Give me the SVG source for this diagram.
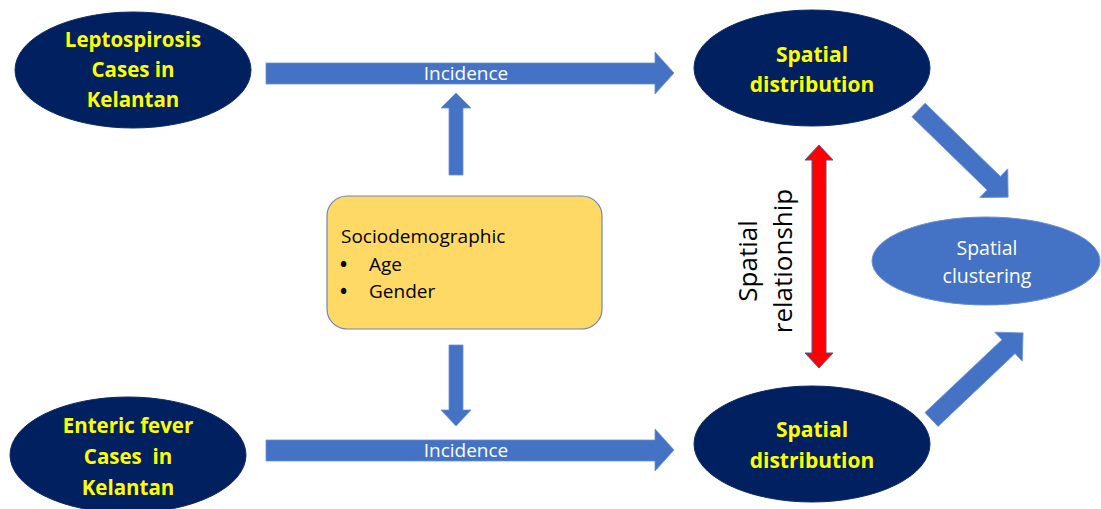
<svg xmlns="http://www.w3.org/2000/svg" width="1101" height="509" viewBox="0 0 1101 509">
<style>
.dark{fill:#002060;stroke:#0a2a6a;stroke-width:1}
.light{fill:#4472C4;stroke:#6a8fd3;stroke-width:1}
.arr{fill:#4472C4;stroke:#6a8fd3;stroke-width:0.8}
.red{fill:#FF0000;stroke:#4a5a9a;stroke-width:1}
.yt{font-family:"Open Sans","Liberation Sans",sans-serif;font-weight:700;fill:#FFFF00;text-anchor:middle;white-space:pre}
.wt{font-family:"Open Sans","Liberation Sans",sans-serif;fill:#FFFFFF;text-anchor:middle}
.bt{font-family:"Open Sans","Liberation Sans",sans-serif;fill:#000000}
</style>
<rect width="1101" height="509" fill="#FFFFFF"/>
<g id="connectors">
<g id="arrow-top">
<polygon class="arr" points="266,63 655,63 655,52 674,73 655,94 655,84 266,84"/>
<text class="wt" x="466" y="80" font-size="19">Incidence</text>
</g>
<g id="arrow-bottom">
<polygon class="arr" points="266,440 655,440 655,429 674,450 655,471 655,461 266,461"/>
<text class="wt" x="466" y="457" font-size="19">Incidence</text>
</g>
<polygon id="arrow-up" class="arr" points="449,175 449,108 441,108 456,93 471,108 463,108 463,175"/>
<polygon id="arrow-down" class="arr" points="449,345 449,410 441,410 456,426 471,410 463,410 463,345"/>
<g id="arrow-relationship">
<polygon class="red" points="819,145 833,160 826,160 826,353 833,353 819,368 805,353 812,353 812,160 805,160"/>
<text class="bt" font-size="26" text-anchor="middle" transform="translate(757,261) rotate(-90)">Spatial</text>
<text class="bt" font-size="26" text-anchor="middle" transform="translate(792,261) rotate(-90)">relationship</text>
</g>
<polygon id="arrow-diag-top" class="arr" transform="translate(918.5,110) rotate(44.2)" points="0,-9.5 105,-9.5 105,-20 125,0 105,20 105,9.5 0,9.5"/>
<polygon id="arrow-diag-bottom" class="arr" transform="translate(931.5,419.5) rotate(-43.4)" points="0,-9.5 106,-9.5 106,-20 126,0 106,20 106,9.5 0,9.5"/>
</g>
<g id="node-leptospirosis">
<ellipse class="dark" cx="133" cy="70" rx="118" ry="58"/>
<text class="yt" font-size="20.5" x="133" y="47">Leptospirosis</text>
<text class="yt" font-size="20.5" x="133" y="77">Cases in</text>
<text class="yt" font-size="20.5" x="133" y="107">Kelantan</text>
</g>
<g id="node-enteric">
<ellipse class="dark" cx="128" cy="455" rx="118" ry="58"/>
<text class="yt" font-size="20.5" x="128" y="433">Enteric fever</text>
<text class="yt" font-size="20.5" x="128" y="464">Cases  in</text>
<text class="yt" font-size="20.5" x="128" y="495">Kelantan</text>
</g>
<g id="node-spatial-top">
<ellipse class="dark" cx="812" cy="68" rx="118" ry="58"/>
<text class="yt" font-size="21" x="812" y="62">Spatial</text>
<text class="yt" font-size="21" x="812" y="92">distribution</text>
</g>
<g id="node-spatial-bottom">
<ellipse class="dark" cx="812" cy="444" rx="118" ry="58"/>
<text class="yt" font-size="21" x="812" y="437">Spatial</text>
<text class="yt" font-size="21" x="812" y="468">distribution</text>
</g>
<g id="node-clustering">
<ellipse class="light" cx="986" cy="261" rx="114" ry="44"/>
<text class="wt" font-size="19.5" x="987" y="255">Spatial</text>
<text class="wt" font-size="19.5" x="987" y="283">clustering</text>
</g>
<g id="node-sociodemographic">
<rect x="327" y="196" width="275" height="133" rx="20" ry="20" fill="#FFD966" stroke="#6d86b8" stroke-width="1.2"/>
<text class="bt" font-size="19" x="341" y="243">Sociodemographic</text>
<text class="bt" font-size="19" font-weight="700" x="340" y="271">•</text>
<text class="bt" font-size="19" x="369" y="271">Age</text>
<text class="bt" font-size="19" font-weight="700" x="340" y="298">•</text>
<text class="bt" font-size="19" x="369" y="298">Gender</text>
</g>
</svg>
